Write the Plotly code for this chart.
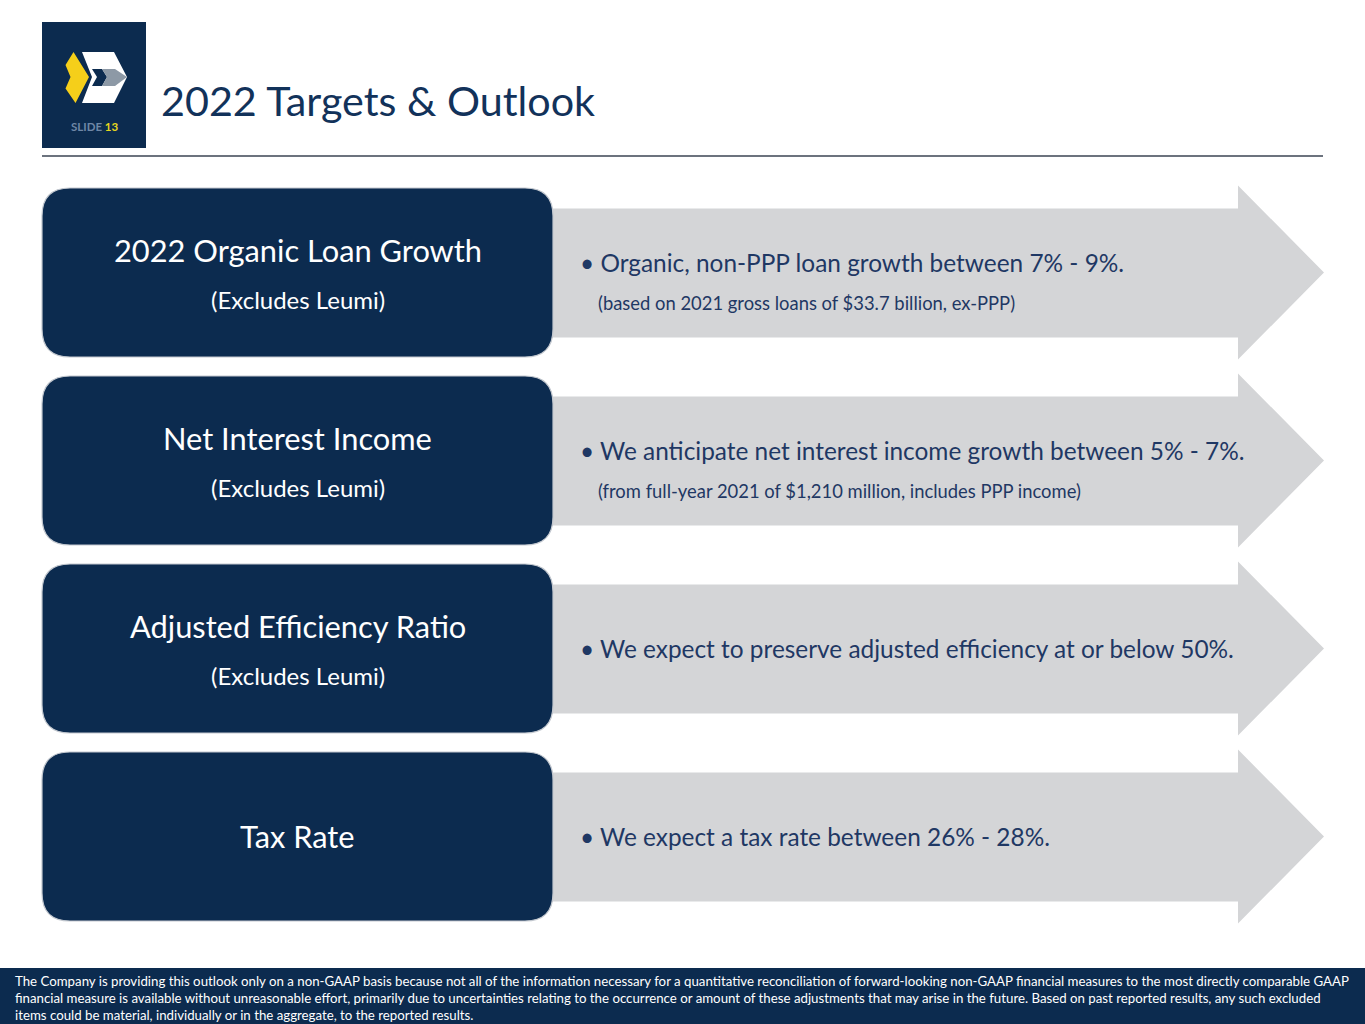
import plotly.graph_objects as go

W, H = 1365, 1024

# ---- content ----
slide_title = "2022 Targets & Outlook"
slide_number = "13"
box_titles = ["2022 Organic Loan Growth", "Net Interest Income",
              "Adjusted Efficiency Ratio", "Tax Rate"]
box_subtitles = ["(Excludes Leumi)", "(Excludes Leumi)", "(Excludes Leumi)", ""]
bullets = ["Organic, non-PPP loan growth between 7% - 9%.",
           "We anticipate net interest income growth between 5% - 7%.",
           "We expect to preserve adjusted efficiency at or below 50%.",
           "We expect a tax rate between 26% - 28%."]
bullet_notes = ["(based on 2021 gross loans of $33.7 billion, ex-PPP)",
                "(from full-year 2021 of $1,210 million, includes PPP income)",
                "", ""]
footer_lines = [
    "The Company is providing this outlook only on a non-GAAP basis because not all of the information necessary for a quantitative reconciliation of forward-looking non-GAAP financial measures to the most directly comparable GAAP",
    "financial measure is available without unreasonable effort, primarily due to uncertainties relating to the occurrence or amount of these adjustments that may arise in the future. Based on past reported results, any such excluded",
    "items could be material, individually or in the aggregate, to the reported results.",
]

NAVY = "#0c2b4f"
TEXT_NAVY = "#1f3864"
GRAY = "#d4d5d7"
FONT = "Lato"

fig = go.Figure()
shapes = []
ann = []

def rrect(x0, y0, x1, y1, r):
    return (f"M {x0+r},{y0} L {x1-r},{y0} Q {x1},{y0} {x1},{y0+r} "
            f"L {x1},{y1-r} Q {x1},{y1} {x1-r},{y1} L {x0+r},{y1} "
            f"Q {x0},{y1} {x0},{y1-r} L {x0},{y0+r} Q {x0},{y0} {x0+r},{y0} Z")

# logo
shapes.append(dict(type="rect", x0=42, y0=22, x1=146, y1=148, fillcolor=NAVY, line_width=0, layer="above"))
shapes.append(dict(type="path", path="M 73.5,52 L 89,77 L 75.5,103 L 65.5,88.5 L 70.5,77 L 65.5,65 Z",
                   fillcolor="#f5cf1a", line_width=0, layer="above"))
shapes.append(dict(type="path", path="M 82,52 L 114,52 L 127,77 L 114,103 L 82,103 L 92,77 Z",
                   fillcolor="#ffffff", line_width=0, layer="above"))
shapes.append(dict(type="path", path="M 92,69 L 102,69 L 107,77 L 102,86 L 92,86 L 97,77 Z",
                   fillcolor=NAVY, line_width=0, layer="above"))
shapes.append(dict(type="path", path="M 102,69 L 115,69 L 127,77 L 115,86 L 102,86 L 107,77 Z",
                   fillcolor="#8d99a6", line_width=0, layer="above"))
ann.append(dict(x=95, y=126, text="<b>SLIDE </b><b><span style='color:#e6d71e'>" + slide_number + "</span></b>",
                showarrow=False, font=dict(family=FONT, size=11.5, color="#6f87a6"), xanchor="center", yanchor="middle"))

# title & rule
ann.append(dict(x=159, y=100, text=slide_title, showarrow=False, xanchor="left", yanchor="middle",
                font=dict(family=FONT, size=41.3, color="#12325a")))
shapes.append(dict(type="line", x0=42, x1=1323, y0=156, y1=156, line=dict(color="#3b4453", width=1.5)))

row_top = [188, 376, 564, 752]
box_h = 169
for i in range(len(box_titles)):
    t = row_top[i]
    cy = t + box_h / 2
    # arrow
    bt, bb = cy - 64, cy + 65
    ht, hb = cy - 87, cy + 87
    shapes.append(dict(type="path",
                       path=f"M 540,{bt} L 1238,{bt} L 1238,{ht} L 1324,{cy} L 1238,{hb} L 1238,{bb} L 540,{bb} Z",
                       fillcolor=GRAY, line_width=0, layer="below"))
    # dark box
    shapes.append(dict(type="path", path=rrect(42, t, 553, t + box_h, 28),
                       fillcolor=NAVY, line=dict(color="#c3c8cf", width=1.2), layer="above"))
    if box_subtitles[i]:
        ann.append(dict(x=297.5, y=cy - 22.5, text=box_titles[i], showarrow=False, xanchor="center", yanchor="middle",
                        font=dict(family=FONT, size=30.8, color="white")))
        ann.append(dict(x=297.5, y=cy + 26.5, text=box_subtitles[i], showarrow=False, xanchor="center", yanchor="middle",
                        font=dict(family=FONT, size=24, color="white")))
    else:
        ann.append(dict(x=297.5, y=cy, text=box_titles[i], showarrow=False, xanchor="center", yanchor="middle",
                        font=dict(family=FONT, size=30.8, color="white")))
    if bullet_notes[i]:
        by = cy - 10
        ann.append(dict(x=596, y=cy + 30.5, text=bullet_notes[i], showarrow=False, xanchor="left", yanchor="middle",
                        font=dict(family=FONT, size=18.4, color=TEXT_NAVY)))
    else:
        by = cy
    ann.append(dict(x=578, y=by, text="\u2022 " + bullets[i], showarrow=False, xanchor="left", yanchor="middle",
                    font=dict(family=FONT, size=24.4, color=TEXT_NAVY)))

# footer
shapes.append(dict(type="rect", x0=0, y0=968, x1=W, y1=H, fillcolor=NAVY, line_width=0, layer="above"))
for j, line in enumerate(footer_lines):
    ann.append(dict(x=13, y=980.5 + j * 17, text=line, showarrow=False, xanchor="left", yanchor="middle",
                    font=dict(family=FONT, size=13.25, color="white")))

fig.update_layout(
    width=W, height=H, margin=dict(l=0, r=0, t=0, b=0),
    paper_bgcolor="white", plot_bgcolor="white",
    xaxis=dict(range=[0, W], visible=False, fixedrange=True),
    yaxis=dict(range=[H, 0], visible=False, fixedrange=True),
    shapes=shapes, annotations=ann, showlegend=False,
)
fig.write_html("out.html", config={"displayModeBar": False},
               post_script="document.body.style.margin='0';document.body.style.overflow='hidden';")
